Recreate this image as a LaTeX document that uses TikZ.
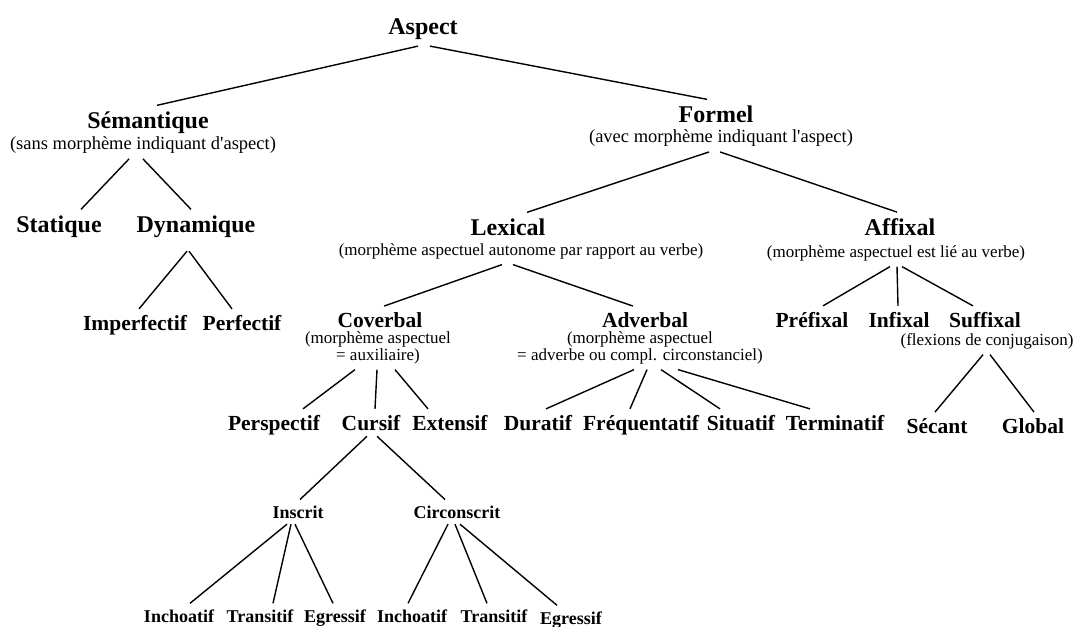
\documentclass[tikz,border=0pt]{standalone}
\usepackage{fontspec}
\setmainfont{Liberation Serif}
\tikzset{
  head/.style={font=\fontsize{24}{26}\selectfont\bfseries},
  term/.style={font=\fontsize{21.5}{24}\selectfont\bfseries},
  leaf/.style={font=\fontsize{18}{20}\selectfont\bfseries},
  gloss/.style={font=\fontsize{17}{17}\selectfont, align=center},
  glossbig/.style={font=\fontsize{18.5}{20}\selectfont, align=center}
}
\begin{document}
\begin{tikzpicture}[
                    x=1pt, y=1pt,
                    line width=1.4pt,
                    every node/.style={inner sep=0pt, outer xsep=0pt, outer ysep=6pt, anchor=base}
                    ]
    \useasboundingbox (0,0) rectangle (1075,-626);

    \node [head] (asp) at (423,-35) {Aspect};
    \node [head] (sem) at (148,-128) {Sémantique};
    \node [glossbig] (semg) at (143,-149) {(sans morphème indiquant d\textquotesingle aspect)};
    \node [head] (frm) at (716,-122) {Formel};
    \node [glossbig] (frmg) at (721,-142) {(avec morphème indiquant l\textquotesingle aspect)};

    \node [head] (sta) at (59,-232) {Statique};
    \node [head] (dyn) at (196,-232) {Dynamique};
    \node [term] (imp) at (135,-330) {Imperfectif};
    \node [term] (prf) at (242,-330) {Perfectif};

    \node [head] (lex) at (508,-235) {Lexical};
    \node [gloss] (lexg) at (521,-255) {(morphème aspectuel autonome par rapport au verbe)};
    \node [head] (afx) at (900,-235) {Affixal};
    \node [gloss] (afxg) at (896,-257) {(morphème aspectuel est lié au verbe)};

    % two-line glosses sit on their last line
    \node [term] (cov) at (380,-327) {Coverbal};
    \node [gloss] (covg) at (378,-360) {(morphème aspectuel\\= auxiliaire)};
    \node [term] (adv) at (645,-327) {Adverbal};
    \node [gloss] (advg) at (640,-360) {(morphème aspectuel\\= adverbe ou compl. circonstanciel)};
    \node [term] (pre) at (812,-327) {Préfixal};
    \node [term] (inf) at (899,-327) {Infixal};
    \node [term] (suf) at (985,-327) {Suffixal};
    \node [gloss] (sufg) at (987,-345) {(flexions de conjugaison)};

    \node [term] (per) at (274,-430) {Perspectif};
    \node [term] (cur) at (371,-430) {Cursif};
    \node [term] (ext) at (450,-430) {Extensif};
    \node [term] (dur) at (538,-430) {Duratif};
    \node [term] (frq) at (641,-430) {Fréquentatif};
    \node [term] (sit) at (741,-430) {Situatif};
    \node [term] (ter) at (835,-430) {Terminatif};
    \node [term] (sec) at (937,-433) {Sécant};
    \node [term] (glo) at (1033,-433) {Global};

    \node [leaf] (ins) at (298,-518) {Inscrit};
    \node [leaf] (cir) at (457,-518) {Circonscrit};
    \node [leaf] (inchA) at (179,-622) {Inchoatif};
    \node [leaf] (traA) at (260,-622) {Transitif};
    \node [leaf] (egrA) at (335,-622) {Egressif};
    \node [leaf] (inchB) at (412,-622) {Inchoatif};
    \node [leaf] (traB) at (494,-622) {Transitif};
    \node [leaf] (egrB) at (571,-624) {Egressif};

    % branches
    \draw ([xshift=-5]asp.south) -- ([xshift=9]sem.north);
    \draw ([xshift=7]asp.south) -- ([xshift=-9]frm.north);
    \draw ([xshift=-14]semg.south) -- ([xshift=22]sta.north);
    \draw (semg.south) -- ([xshift=-5]dyn.north);
    \draw ([xshift=-9,yshift=-8]dyn.south) -- ([xshift=4]imp.north);
    \draw ([xshift=-7,yshift=-8]dyn.south) -- ([xshift=-10]prf.north);
    \draw ([xshift=-12]frmg.south) -- ([xshift=19]lex.north);
    \draw ([xshift=-1]frmg.south) -- ([xshift=-3]afx.north);
    \draw ([xshift=-19]lexg.south) -- ([xshift=4]cov.north);
    \draw ([xshift=-8]lexg.south) -- ([xshift=-12]adv.north);
    \draw ([xshift=-6]afxg.south) -- ([xshift=11]pre.north);
    \draw ([xshift=1]afxg.south) -- ([xshift=-1]inf.north);
    \draw ([xshift=6]afxg.south) -- ([xshift=-12]suf.north);
    \draw ([xshift=-23]covg.south) -- ([xshift=29]per.north);
    \draw ([xshift=-1]covg.south) -- ([xshift=4]cur.north);
    \draw ([xshift=17]covg.south) -- ([xshift=-22]ext.north);
    \draw ([xshift=-6]advg.south) -- ([xshift=8]dur.north);
    \draw ([xshift=7]advg.south) -- ([xshift=-11]frq.north);
    \draw ([xshift=21]advg.south) -- ([xshift=-21]sit.north);
    \draw ([xshift=38]advg.south) -- ([xshift=-25]ter.north);
    \draw ([xshift=-4]sufg.south) -- ([xshift=-2]sec.north);
    \draw ([xshift=3]sufg.south) -- ([xshift=1]glo.north);
    \draw ([xshift=-4]cur.south) -- ([xshift=2]ins.north);
    \draw ([xshift=6]cur.south) -- ([xshift=-12]cir.north);
    \draw ([xshift=-11]ins.south) -- ([xshift=11]inchA.north);
    \draw ([xshift=-7]ins.south) -- ([xshift=13]traA.north);
    \draw ([xshift=-3]ins.south) -- ([xshift=-2]egrA.north);
    \draw ([xshift=-9]cir.south) -- ([xshift=-4]inchB.north);
    \draw ([xshift=-2]cir.south) -- ([xshift=-7]traB.north);
    \draw ([xshift=3]cir.south) -- ([xshift=-14]egrB.north);
\end{tikzpicture}
\end{document}
